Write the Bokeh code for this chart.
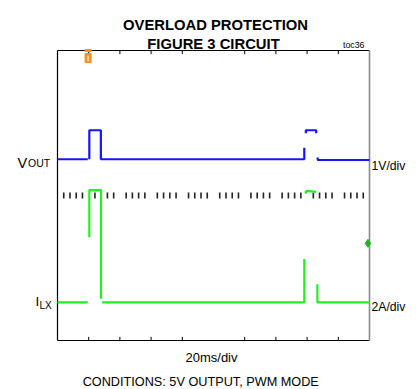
import math
from bokeh.plotting import figure
from bokeh.models import Range1d, Label
from bokeh.embed import file_html
from bokeh.resources import INLINE

nan = float("nan")

# ---- data ----
MS_PER_DIV = 20.0
V_PER_DIV = 1.0
A_PER_DIV = 2.0
VOUT_ZERO_DIV = 0.0     # channel 1 ground position (div)
ILX_ZERO_DIV = 1.05     # channel 2 ground position (div)

vout_t = [0, 19.4, nan, 20.4, 20.4, 27.8, 27.8, 28.6, 158.2, 158.2, nan,
          159.2, 159.2, 165.8, 165.8, nan, 166.8, 166.8, 200]
vout_v = [5.0, 5.0, nan, 5.0, 5.8, 5.8, 5.0, 5.0, 5.0, 5.32, nan,
          5.72, 5.8, 5.8, 5.72, nan, 5.05, 4.98, 4.98]

ilx_t = [0, 19.4, nan, 20.4, 20.4, 27.9, 27.9, nan, 28.6, 158.2, 158.2, nan,
         159.4, 159.0, 159.6, 165.8, nan, 166.6, 166.6, 200]
ilx_a = [0, 0, nan, 3.6, 6.2, 6.2, 0.2, nan, 0, 0, 2.4, nan,
         6.0, 6.1, 6.15, 6.1, nan, 1.0, 0, 0]

major_div = [1, 2, 3, 4, 6, 7, 8, 9]
minor_div = [k / 5 for k in range(1, 50) if k % 5 != 0]
trigger_t = 19.6
ilx_marker_div = 2.68

W, H = 420, 389
BOX_L, BOX_T, BOX_W, BOX_H = 57, 50, 312, 290   # scope screen in page px
XMAX = 10 * MS_PER_DIV

def xd(px):   # page px -> data x (ms)
    return (px - BOX_L) / BOX_W * XMAX
def yd(py):   # page px -> data y (div)
    return (BOX_T + BOX_H - py) / BOX_H * 8

p = figure(width=W, height=H, output_backend="svg", toolbar_location=None,
           x_range=Range1d(xd(0), xd(W)), y_range=Range1d(yd(H), yd(0)),
           min_border=0)
p.xaxis.visible = False
p.yaxis.visible = False
p.grid.visible = False
p.outline_line_color = None
p.background_fill_color = "white"
p.border_fill_color = "white"

# scope frame
p.segment(x0=[0, 0, 0], y0=[0, 8, 0], x1=[XMAX, XMAX, 0], y1=[0, 8, 8],
          line_color="black", line_width=1.2)
p.segment(x0=[XMAX], y0=[0], x1=[XMAX], y1=[8], line_color="#8a8a8a", line_width=1.6)

# graticule tick marks
tx = [d * MS_PER_DIV for d in major_div]
p.segment(x0=tx, y0=[8] * len(tx), x1=tx, y1=[8 - 0.1] * len(tx), line_color="black", line_width=1)
p.segment(x0=tx, y0=[0] * len(tx), x1=tx, y1=[0.1] * len(tx), line_color="black", line_width=1)
mx = [d * MS_PER_DIV for d in minor_div]
p.segment(x0=mx, y0=[4 - 0.08] * len(mx), x1=mx, y1=[4 + 0.08] * len(mx),
          line_color="#222222", line_width=1.6)

# traces
vy = [v / V_PER_DIV + VOUT_ZERO_DIV if not math.isnan(v) else nan for v in vout_v]
iy = [a / A_PER_DIV + ILX_ZERO_DIV if not math.isnan(a) else nan for a in ilx_a]
p.line(vout_t, vy, line_color="#1414ff", line_width=2.2)
p.line(ilx_t, iy, line_color="#22f022", line_width=2.2)

# markers
p.scatter([XMAX - 1], [ilx_marker_div], marker="diamond", size=8,
          fill_color="#20b020", line_color="#20b020")
p.rect([trigger_t], [yd(57.5)], width=6, height=9, width_units="screen",
       height_units="screen", fill_color="#ff8c1a", line_color="#ff8c1a")
p.rect([trigger_t], [yd(50)], width=6, height=2, width_units="screen",
       height_units="screen", fill_color="#ff8c1a", line_color="#ff8c1a")
p.segment(x0=[trigger_t], y0=[yd(55)], x1=[trigger_t], y1=[yd(61)],
          line_color="white", line_width=1.2)

FONT = "Liberation Sans"

def lab(txt, px, py, size, align="left", bold=False, font=FONT):
    p.add_layout(Label(x=xd(px), y=yd(py), text=txt, text_font=font,
                       text_font_size=f"{size}px", text_align=align,
                       text_baseline="alphabetic", text_color="black",
                       text_font_style="bold" if bold else "normal"))

lab("OVERLOAD PROTECTION", 215, 24, 14.8, "center", True)
lab("FIGURE 3 CIRCUIT", 213, 43.5, 14.8, "center", True)
lab("toc36", 364, 44, 8.8, "right")
lab("1V/div", 371, 165.5, 12.2)
lab("2A/div", 371, 306.5, 12.2)
lab("20ms/div", 211, 357, 13, "center")
lab("CONDITIONS: 5V OUTPUT,  PWM MODE", 202, 381, 12.7, "center")
lab("V", 17, 162, 14.5)
lab("OUT", 27.5, 162, 10.5)
lab("I", 35, 300.5, 13.5)
lab("LX", 39, 305, 10)

open("out.html", "w").write(file_html(p, INLINE))
